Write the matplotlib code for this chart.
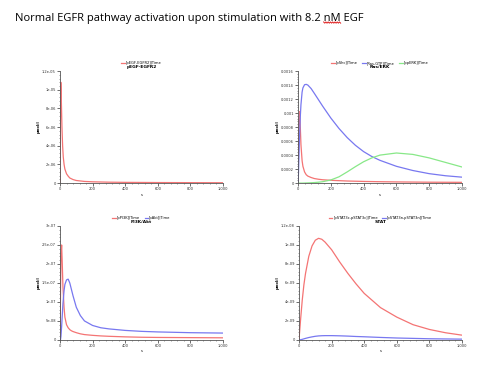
import numpy as np
import matplotlib
matplotlib.use("Agg")
import matplotlib.pyplot as plt
from matplotlib.ticker import FuncFormatter, AutoMinorLocator

# ---- data ----
t_egfr = [0, 2, 5, 8, 12, 16, 20, 25, 30, 40, 50, 60, 80, 100, 150, 200, 300, 400, 600, 800, 1000]
egfr = [0, 6e-6, 1.08e-5, 9.0e-6, 6.0e-6, 4.0e-6, 2.8e-6, 2.0e-6, 1.5e-6, 1.0e-6, 7.5e-7,
        5.5e-7, 3.8e-7, 2.8e-7, 1.8e-7, 1.4e-7, 1.0e-7, 8e-8, 6e-8, 5e-8, 4e-8]

t_ras = [0, 3, 6, 10, 14, 18, 25, 30, 40, 50, 60, 80, 100, 125, 150, 200, 250, 300, 350, 400,
         450, 500, 600, 700, 800, 900, 1000]
pshc = [0, 5e-4, 9e-4, 1.02e-3, 8e-4, 5.5e-4, 3.2e-4, 2.4e-4, 1.6e-4, 1.2e-4, 1.0e-4, 8e-5, 6.5e-5,
        5.5e-5, 4.8e-5, 4e-5, 3.5e-5, 3e-5, 2.7e-5, 2.4e-5, 2.2e-5, 2e-5, 1.7e-5, 1.5e-5, 1.3e-5,
        1.2e-5, 1.1e-5]
rasgtp = [0, 1.5e-4, 4e-4, 7e-4, 9.5e-4, 1.12e-3, 1.3e-3, 1.36e-3, 1.405e-3, 1.41e-3, 1.40e-3,
          1.35e-3, 1.28e-3, 1.19e-3, 1.1e-3, 9.3e-4, 7.8e-4, 6.5e-4, 5.4e-4, 4.5e-4, 3.8e-4,
          3.25e-4, 2.4e-4, 1.8e-4, 1.35e-4, 1.05e-4, 8.5e-5]
pperk = [0, 0, 0, 0, 0, 0, 0, 0, 1e-6, 2e-6, 3e-6, 5e-6, 8e-6, 1.3e-5, 2e-5, 4.5e-5, 9e-5, 1.6e-4,
         2.35e-4, 3.05e-4, 3.6e-4, 4e-4, 4.3e-4, 4.1e-4, 3.6e-4, 2.95e-4, 2.3e-4]

t_pi3k = [0, 3, 6, 10, 14, 18, 25, 30, 40, 50, 60, 70, 80, 100, 125, 150, 200, 250, 300, 400,
          500, 600, 800, 1000]
ppi3k = [0, 1.2e-7, 2.2e-7, 2.5e-7, 2.0e-7, 1.4e-7, 8.5e-8, 6e-8, 4e-8, 3.2e-8, 2.7e-8, 2.4e-8,
         2.2e-8, 1.9e-8, 1.6e-8, 1.4e-8, 1.2e-8, 1.05e-8, 9.5e-9, 8e-9, 7e-9, 6.5e-9, 6e-9, 5.5e-9]
pakt = [0, 0, 1e-8, 3.5e-8, 6.5e-8, 9.5e-8, 1.3e-7, 1.46e-7, 1.58e-7, 1.6e-7, 1.5e-7, 1.33e-7,
        1.16e-7, 8.6e-8, 6.4e-8, 5.0e-8, 3.8e-8, 3.2e-8, 2.9e-8, 2.5e-8, 2.25e-8, 2.1e-8, 1.9e-8,
        1.8e-8]

t_stat = [0, 10, 20, 30, 40, 60, 80, 100, 120, 140, 160, 200, 250, 300, 350, 400, 500, 600, 700,
          800, 900, 1000]
pstat3c = [0, 2.2e-9, 4.2e-9, 5.8e-9, 7.0e-9, 8.8e-9, 9.9e-9, 1.05e-8, 1.07e-8, 1.06e-8, 1.03e-8,
           9.5e-9, 8.2e-9, 7.0e-9, 5.9e-9, 4.9e-9, 3.4e-9, 2.4e-9, 1.6e-9, 1.1e-9, 7.5e-10, 5e-10]
pstat3n = [0, 2e-11, 6e-11, 1.1e-10, 1.6e-10, 2.5e-10, 3.2e-10, 3.8e-10, 4.2e-10, 4.4e-10,
           4.5e-10, 4.5e-10, 4.3e-10, 4.0e-10, 3.6e-10, 3.3e-10, 2.6e-10, 2.0e-10, 1.6e-10,
           1.2e-10, 1.0e-10, 8e-11]

RED, BLUE, GREEN = "#f47474", "#7878f0", "#88e888"
FS = 2.6

fig = plt.figure(figsize=(5, 3.76), dpi=100)
fig.patch.set_facecolor("white")


def sci(v, pos):
    if v == 0:
        return "0"
    s = "%g" % v
    m, e = s.split("e") if "e" in s else (s, None)
    if e is None:
        return s
    return "%se-%02d" % (m, -int(e))


def setup(ax, title, ymax, ystep, fmt, series):
    for t, y, c, lab in series:
        ax.plot(t, y, color=c, lw=0.9, label=lab)
    ax.set_xlim(0, 1000)
    ax.set_ylim(0, ymax)
    ax.set_yticks(np.arange(0, ymax + ystep / 2, ystep))
    ax.set_xticks([0, 200, 400, 600, 800, 1000])
    ax.xaxis.set_major_formatter(FuncFormatter(lambda v, p: "{:,}".format(int(v))))
    ax.yaxis.set_major_formatter(FuncFormatter(fmt))
    ax.xaxis.set_minor_locator(AutoMinorLocator(5))
    ax.yaxis.set_minor_locator(AutoMinorLocator(5))
    for s in ("top", "right"):
        ax.spines[s].set_visible(False)
    for s in ("left", "bottom"):
        ax.spines[s].set_color("#555555")
        ax.spines[s].set_linewidth(0.6)
    ax.tick_params(labelsize=FS, length=2, width=0.5, colors="#333333", pad=1)
    ax.tick_params(which="minor", length=1, width=0.4, colors="#555555")
    ax.set_xlabel("s", fontsize=FS, labelpad=1)
    ax.set_ylabel("µmol/l", fontsize=FS, labelpad=1, fontweight="bold")
    ax.set_title(title, fontsize=3.2, fontweight="bold", pad=2)
    ax.legend(loc="lower center", bbox_to_anchor=(0.5, 1.035), ncol=len(series),
              fontsize=FS, frameon=False, handlelength=1.0, handletextpad=0.3,
              columnspacing=1.2, borderpad=0)


ax1 = fig.add_axes([0.12, 0.513, 0.326, 0.298])
setup(ax1, "pEGF-EGFR2", 1.2e-5, 2e-6, sci,
      [(t_egfr, egfr, RED, "[pEGF-EGFR2]|Time")])

ax2 = fig.add_axes([0.596, 0.513, 0.328, 0.298])
setup(ax2, "Ras/ERK", 0.0016, 0.0002, lambda v, p: "0" if v == 0 else "%g" % v,
      [(t_ras, pshc, RED, "[pShc]|Time"), (t_ras, rasgtp, BLUE, "[Ras-GTP]|Time"),
       (t_ras, pperk, GREEN, "[ppERK]|Time")])

ax3 = fig.add_axes([0.12, 0.096, 0.326, 0.303])
setup(ax3, "PI3K/Akt", 3e-7, 5e-8, sci,
      [(t_pi3k, ppi3k, RED, "[pPI3K]|Time"), (t_pi3k, pakt, BLUE, "[pAkt]|Time")])

ax4 = fig.add_axes([0.598, 0.096, 0.326, 0.303])
setup(ax4, "STAT", 1.2e-8, 2e-9, sci,
      [(t_stat, pstat3c, RED, "[pSTAT3c-pSTAT3c]|Time"),
       (t_stat, pstat3n, BLUE, "[pSTAT3n-pSTAT3n]|Time")])

# page title with red spell-check underline under "nM"
TFS = 8
prefix = "Normal EGFR pathway activation upon stimulation with 8.2 "
title = fig.text(0.03, 0.952, prefix + "nM EGF", fontsize=TFS, family="Open Sans",
                 va="center", ha="left")
fig.canvas.draw()
r = fig.canvas.get_renderer()
tmp = fig.text(0.03, 0.952, prefix.rstrip() + " .", fontsize=TFS, family="Open Sans",
               va="center")
tmp2 = fig.text(0.03, 0.952, prefix + "nM", fontsize=TFS, family="Open Sans", va="center")
x1 = tmp2.get_window_extent(r).x1
w_nm = fig.text(0, 0, "nM", fontsize=TFS, family="Open Sans").get_window_extent(r).width
x0 = x1 - w_nm
bb = title.get_window_extent(r)
for a in list(fig.texts)[1:]:
    a.remove()
xs = np.linspace(x0, x1, 16)
ys = bb.y0 + 1.0 + 0.6 * np.where(np.arange(16) % 2 == 0, 1, -1)
fig.add_artist(plt.Line2D(xs / 500, ys / 376, color="#e02020", lw=0.7,
                          transform=fig.transFigure))

fig.savefig("out.png", dpi=100)
